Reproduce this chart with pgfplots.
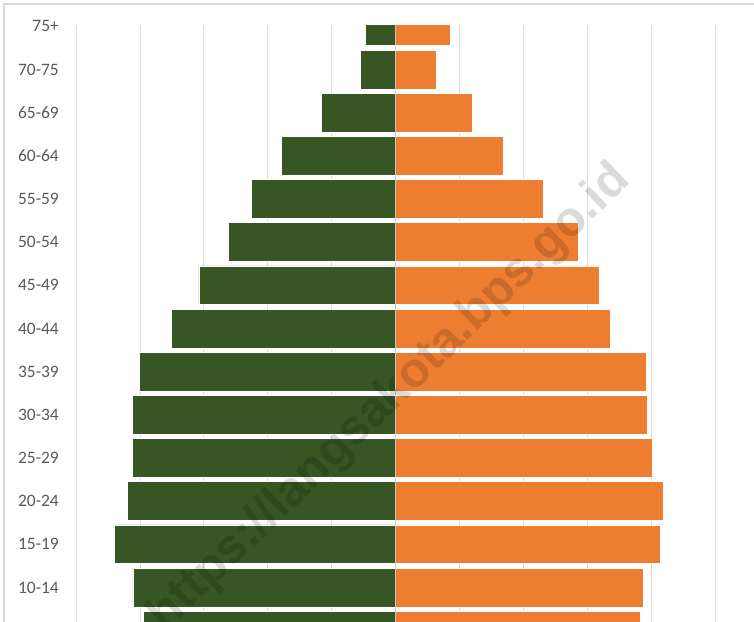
\documentclass[border=0pt]{standalone}
\usepackage{fontspec}
\setmainfont{Carlito}
\newfontfamily\wmfont{Liberation Sans}
\usepackage{pgfplots}
\pgfplotsset{compat=1.18}
\definecolor{dgreen}{HTML}{375623}
\definecolor{orng}{HTML}{ED7D31}
\definecolor{gridc}{HTML}{D9D9D9}
\definecolor{lbl}{HTML}{595959}
\begin{document}
\begin{tikzpicture}
\begin{axis}[
  at={(0,0)}, anchor=south west,
  scale only axis, width=639bp, height=597bp,
  xmin=-5, xmax=5, ymin=-0.03, ymax=13.8, y dir=reverse,
  xbar, bar width=0.9, bar shift=0pt,
  xtick={-5,...,5}, xticklabels=\empty,
  xmajorgrids, grid style={gridc, line width=0.75bp},
  ytick={0,...,14},
  yticklabels={75+,70-75,65-69,60-64,55-59,50-54,45-49,40-44,35-39,30-34,25-29,20-24,15-19,10-14,5-9},
  major tick length=0pt,
  axis line style={draw=none},
  yticklabel style={font=\fontsize{17.5}{17.5}\selectfont, text=lbl, anchor=east, inner sep=0pt, xshift=-17bp},
]
\addplot[fill=dgreen, draw=white, line width=0.6bp] coordinates {
(-0.470,0) (-0.554,1) (-1.160,2) (-1.786,3) (-2.249,4) (-2.612,5) (-3.077,6) (-3.507,7)
(-4.005,8) (-4.122,9) (-4.122,10) (-4.194,11) (-4.396,12) (-4.110,13) (-3.948,14)};
\addplot[fill=orng, draw=white, line width=0.6bp] coordinates {
(0.853,0) (0.642,1) (1.197,2) (1.692,3) (2.307,4) (2.859,5) (3.183,6) (3.368,7)
(3.923,8) (3.937,9) (4.014,10) (4.191,11) (4.150,12) (3.875,13) (3.833,14)};
\draw[color=gridc!80!gray, line width=0.75bp] (axis cs:0,-0.03) -- (axis cs:0,13.8);
\node[rotate=44, text=black, opacity=0.14, font=\wmfont\bfseries\fontsize{49}{49}\selectfont] at (axis cs:-0.09,8.62) {https://langsakota.bps.go.id};
\end{axis}
\draw[gridc, line width=1.2bp] (-72bp,0) -- (-72bp,618bp) -- (678bp,618bp);
\pgfresetboundingbox
\path (-76bp,0) rectangle (678bp,622bp);
\end{tikzpicture}
\end{document}
